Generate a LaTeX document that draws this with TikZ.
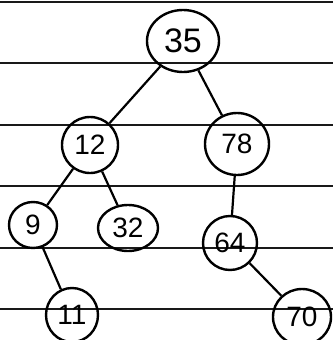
\documentclass[tikz,border=0pt]{standalone}
\usepackage{fontspec}
\setmainfont{Liberation Sans}
\usetikzlibrary{shapes.geometric}
\begin{document}
\begin{tikzpicture}[x=1pt,y=-1pt,
  rule/.style={line width=2.4pt,black!90},
  tnode/.style={draw,ellipse,line width=2.4pt,inner sep=0pt,font=\fontsize{28}{28}\selectfont},
  edge/.style={line width=2.2pt}]
\useasboundingbox (0,0) rectangle (333,340);
\fill[white] (0,0) rectangle (333,340);
\foreach \y in {2,63,125,186,248,309} \draw[rule] (0,\y) -- (333,\y);
\node[tnode,minimum width=72pt,minimum height=62pt,font=\fontsize{34}{34}\selectfont] (n35) at (183,41) {35};
\node[tnode,minimum width=56pt,minimum height=56pt] (n12) at (90,145) {12};
\node[tnode,minimum width=64pt,minimum height=62pt] (n78) at (237,144) {78};
\node[tnode,minimum width=48pt,minimum height=46pt] (n9) at (33,225) {9};
\node[tnode,minimum width=60pt,minimum height=46pt] (n32) at (128,228) {32};
\node[tnode,minimum width=54pt,minimum height=54pt] (n64) at (230,243) {64};
\node[tnode,minimum width=52pt,minimum height=54pt] (n11) at (72,315) {11};
\node[tnode,minimum width=58pt,minimum height=56pt] (n70) at (302,317) {70};
\draw[edge] (n35) -- (n12);
\draw[edge] (n35) -- (n78);
\draw[edge] (n12) -- (n9);
\draw[edge] (n12) -- (n32);
\draw[edge] (n78) -- (n64);
\draw[edge] (n9) -- (n11);
\draw[edge] (n64) -- (n70);
\end{tikzpicture}
\end{document}
